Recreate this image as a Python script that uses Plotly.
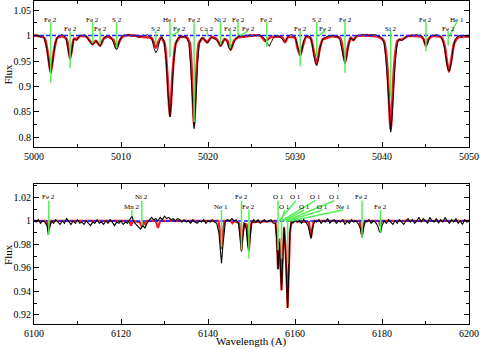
import plotly.graph_objects as go

# ---------------- DATA ----------------
# Top panel: observed spectrum (black), wavelength / flux pairs
top_observed = [
    (5000.0,1.000),(5000.25,1.001),(5000.5,0.999),(5000.75,0.997),(5001.0,0.999),(5001.2,0.994),
    (5001.45,0.975),(5001.7,0.945),(5001.92,0.925),(5002.15,0.950),(5002.4,0.982),(5002.65,0.996),
    (5002.9,1.000),(5003.15,1.002),(5003.4,1.001),(5003.65,0.996),(5003.85,0.978),(5004.0,0.962),
    (5004.15,0.954),(5004.35,0.970),(5004.55,0.992),(5004.75,0.992),(5004.9,0.990),(5005.1,0.996),
    (5005.35,1.001),(5005.6,1.000),(5005.85,1.002),(5006.1,0.997),(5006.4,0.988),(5006.7,0.982),
    (5006.95,0.987),(5007.15,0.990),(5007.4,0.984),(5007.6,0.979),(5007.85,0.989),(5008.1,0.996),
    (5008.35,0.999),(5008.6,1.001),(5008.85,0.996),(5009.15,0.986),(5009.35,0.975),(5009.55,0.973),
    (5009.8,0.988),(5010.05,0.998),(5010.3,1.001),(5010.55,1.000),(5010.8,1.002),(5011.05,1.000),
    (5011.3,0.999),(5011.55,1.001),(5011.8,0.998),(5012.05,0.996),(5012.3,0.999),(5012.55,1.001),
    (5012.8,1.000),(5013.05,1.002),(5013.3,0.999),(5013.55,0.993),(5013.8,0.975),(5014.0,0.966),
    (5014.2,0.972),(5014.45,0.990),(5014.7,0.998),(5014.95,0.990),(5015.2,0.950),(5015.4,0.885),
    (5015.63,0.840),(5015.85,0.885),(5016.05,0.950),(5016.3,0.985),(5016.55,0.996),(5016.8,0.998),
    (5017.05,0.997),(5017.3,0.999),(5017.55,0.996),(5017.8,0.985),(5018.0,0.940),(5018.2,0.870),
    (5018.4,0.817),(5018.6,0.870),(5018.8,0.945),(5019.0,0.985),(5019.25,0.996),(5019.5,0.994),
    (5019.75,0.988),(5019.95,0.985),(5020.2,0.993),(5020.45,0.997),(5020.7,0.994),(5020.95,0.992),
    (5021.2,0.987),(5021.45,0.979),(5021.7,0.988),(5021.95,0.994),(5022.2,0.988),(5022.4,0.976),
    (5022.6,0.972),(5022.85,0.982),(5023.1,0.991),(5023.35,0.997),(5023.6,0.998),(5023.85,1.000),
    (5024.1,0.998),(5024.35,1.001),(5024.6,1.000),(5024.85,1.002),(5025.1,0.999),(5025.35,1.001),
    (5025.6,1.000),(5025.85,1.002),(5026.1,0.999),(5026.35,0.997),(5026.6,0.991),(5026.85,0.983),
    (5027.05,0.979),(5027.3,0.988),(5027.55,0.997),(5027.8,0.999),(5028.05,1.000),(5028.3,0.997),
    (5028.55,0.993),(5028.8,0.988),(5029.0,0.992),(5029.25,0.999),(5029.5,1.002),(5029.75,1.001),
    (5030.0,0.998),(5030.2,0.985),(5030.4,0.968),(5030.6,0.960),(5030.8,0.972),(5031.0,0.990),
    (5031.25,0.998),(5031.5,1.000),(5031.75,0.997),(5031.95,0.985),(5032.15,0.962),(5032.35,0.945),
    (5032.5,0.941),(5032.7,0.955),(5032.9,0.978),(5033.15,0.992),(5033.4,0.995),(5033.65,0.998),
    (5033.9,1.000),(5034.15,0.999),(5034.4,1.001),(5034.65,0.999),(5034.9,0.998),(5035.15,0.992),
    (5035.35,0.975),(5035.55,0.955),(5035.75,0.945),(5035.95,0.958),(5036.15,0.982),(5036.4,0.996),
    (5036.6,0.992),(5036.8,0.991),(5037.0,0.998),(5037.25,1.001),(5037.5,1.000),(5037.75,1.002),
    (5038.0,1.001),(5038.25,1.003),(5038.5,1.000),(5038.75,1.002),(5039.0,1.001),(5039.25,1.002),
    (5039.5,0.999),(5039.75,0.998),(5040.0,0.995),(5040.25,0.985),(5040.45,0.955),(5040.65,0.905),
    (5040.85,0.845),(5041.0,0.810),(5041.15,0.840),(5041.35,0.900),(5041.55,0.955),(5041.75,0.985),
    (5042.0,0.994),(5042.2,0.990),(5042.45,0.992),(5042.7,0.998),(5042.95,1.000),(5043.2,0.999),
    (5043.45,1.001),(5043.7,1.000),(5043.95,1.002),(5044.2,1.000),(5044.45,1.001),(5044.7,0.996),
    (5044.9,0.986),(5045.05,0.978),(5045.25,0.986),(5045.5,0.997),(5045.75,1.001),(5046.0,1.000),
    (5046.25,1.002),(5046.5,1.000),(5046.75,0.998),(5047.0,0.990),(5047.2,0.975),(5047.4,0.950),
    (5047.6,0.932),(5047.75,0.930),(5047.95,0.945),(5048.15,0.972),(5048.4,0.992),(5048.65,0.998),
    (5048.9,1.000),(5049.15,0.998),(5049.4,1.001),(5049.65,0.999),(5049.9,1.000),(5050.0,0.999),
]

# Top panel: synthetic model (red)
top_model = [
    (5000.0,1.000),(5000.6,0.999),(5001.2,0.995),(5001.55,0.970),(5001.92,0.926),(5002.3,0.970),
    (5002.65,0.995),(5003.2,0.999),(5003.75,0.993),(5004.0,0.968),(5004.15,0.955),(5004.35,0.972),
    (5004.6,0.994),(5004.9,0.993),(5005.3,0.999),(5006.0,0.998),(5006.4,0.990),(5006.75,0.983),
    (5007.1,0.990),(5007.6,0.980),(5008.0,0.994),(5008.5,0.998),(5009.1,0.992),(5009.5,0.975),
    (5009.9,0.992),(5010.4,1.000),(5011.5,1.000),(5012.3,0.998),(5013.5,0.995),(5013.8,0.985),
    (5014.0,0.976),(5014.3,0.988),(5014.6,0.996),(5015.0,0.985),(5015.3,0.930),(5015.63,0.842),
    (5015.95,0.930),(5016.3,0.985),(5016.8,0.997),(5017.5,0.997),(5017.9,0.985),(5018.15,0.920),
    (5018.4,0.823),(5018.65,0.920),(5018.95,0.985),(5019.4,0.995),(5019.9,0.987),(5020.4,0.997),
    (5021.0,0.993),(5021.45,0.980),(5021.9,0.993),(5022.2,0.990),(5022.6,0.972),(5023.0,0.990),
    (5023.4,0.996),(5024.5,0.999),(5026.0,1.000),(5026.6,0.989),(5027.2,0.997),(5028.5,0.997),
    (5028.85,0.987),(5029.2,0.997),(5030.0,0.996),(5030.3,0.975),(5030.6,0.961),(5030.9,0.980),
    (5031.3,0.998),(5031.8,0.995),(5032.2,0.965),(5032.5,0.944),(5032.85,0.975),(5033.2,0.993),
    (5033.6,0.995),(5034.2,0.999),(5035.2,0.995),(5035.5,0.970),(5035.75,0.947),(5036.05,0.975),
    (5036.4,0.996),(5036.7,0.991),(5037.1,0.999),(5038.5,1.000),(5039.5,0.998),(5040.2,0.990),
    (5040.6,0.940),(5041.0,0.814),(5041.4,0.940),(5041.8,0.990),(5042.4,0.993),(5043.0,0.999),
    (5044.5,0.998),(5044.8,0.992),(5045.05,0.980),(5045.35,0.993),(5045.8,0.999),(5046.8,0.997),
    (5047.2,0.980),(5047.45,0.950),(5047.7,0.929),(5048.0,0.955),(5048.3,0.985),(5048.8,0.997),
    (5050.0,0.998),
]

# Top panel line identifications
top_ids        = ["Fe 2","Fe 2","Fe 2","Fe 2","S 2","S 2","He 1","Fe 2","Fe 2","Ca 2","Ni 2","Fe 2",
                  "Fe 2","Fe 2","Fe 2","Fe 2","S 2","Fe 2","Fe 2","Si 2","Fe 2","Fe 2","He 1"]
top_id_wave    = [5001.92,5004.15,5006.75,5007.6,5009.5,5014.0,5015.63,5015.85,5018.4,5019.92,5021.45,5022.55,
                  5023.45,5023.7,5026.75,5030.6,5032.5,5032.75,5035.75,5041.0,5045.05,5047.6,5047.8]
top_label_wave = [5001.92,5004.15,5006.75,5007.6,5009.5,5014.0,5015.63,5016.7,5018.4,5019.92,5021.45,5022.55,
                  5023.45,5024.6,5026.75,5030.6,5032.5,5033.45,5035.75,5041.0,5045.05,5047.6,5048.6]
top_label_row  = [1,0,1,0,1,0,1,0,1,0,1,0,1,0,1,0,1,0,1,0,1,0,1]
top_id_tip     = [0.907,0.936,0.985,0.983,0.975,0.982,0.958,1.0,0.830,0.998,0.982,0.975,
                  1.0,1.0,0.978,0.939,0.960,1.0,0.927,0.879,0.969,0.980,1.0]

# Bottom panel: observed spectrum (black)
bottom_observed = [
    (6100.0,1.000),(6100.5,0.999),(6101.0,1.001),(6101.5,0.998),(6102.0,1.000),(6102.5,0.999),
    (6103.0,0.996),(6103.3,0.988),(6103.6,0.995),(6104.0,1.000),(6104.5,0.998),(6105.0,1.001),
    (6105.5,0.999),(6106.0,0.997),(6106.5,1.000),(6107.0,0.998),(6107.5,1.002),(6108.0,0.999),
    (6108.5,0.997),(6109.0,1.000),(6109.5,0.998),(6110.0,1.001),(6110.5,0.998),(6111.0,0.999),
    (6111.5,0.997),(6112.0,1.000),(6112.5,0.998),(6113.0,0.996),(6113.5,0.999),(6114.0,0.998),
    (6114.5,1.001),(6115.0,0.998),(6115.5,0.999),(6116.0,0.997),(6116.5,1.000),(6117.0,0.998),
    (6117.5,1.001),(6118.0,0.999),(6118.5,0.996),(6119.0,0.999),(6119.5,0.998),(6120.0,1.000),
    (6120.5,0.997),(6121.0,0.999),(6121.5,0.998),(6122.0,1.001),(6122.5,1.004),(6123.0,0.999),
    (6123.5,0.997),(6124.0,0.995),(6124.5,0.993),(6125.0,0.996),(6125.5,0.994),(6126.0,0.998),
    (6126.5,1.001),(6127.0,1.003),(6127.5,1.001),(6128.0,1.002),(6128.5,1.000),(6129.0,1.003),
    (6129.5,1.001),(6130.0,1.004),(6130.5,1.002),(6131.0,1.003),(6131.5,1.001),(6132.0,1.002),
    (6132.5,1.000),(6133.0,1.002),(6133.5,1.001),(6134.0,0.999),(6134.5,1.001),(6135.0,0.999),
    (6135.5,1.000),(6136.0,0.998),(6136.5,1.001),(6137.0,0.999),(6137.5,0.998),(6138.0,1.000),
    (6138.5,0.999),(6139.0,1.001),(6139.5,0.998),(6140.0,1.000),(6140.5,0.999),(6141.0,1.001),
    (6141.5,0.999),(6142.0,0.998),(6142.5,0.990),(6142.8,0.975),(6143.1,0.964),(6143.4,0.978),
    (6143.7,0.993),(6144.0,1.000),(6144.5,1.001),(6145.0,1.000),(6145.5,1.002),(6146.0,1.000),
    (6146.5,1.001),(6147.0,0.998),(6147.4,0.985),(6147.7,0.974),(6148.0,0.986),(6148.4,0.998),
    (6148.8,0.993),(6149.1,0.980),(6149.4,0.975),(6149.7,0.987),(6150.0,0.998),(6150.5,1.001),
    (6151.0,0.999),(6151.5,1.001),(6152.0,0.998),(6152.5,1.000),(6153.0,1.001),(6153.5,0.999),
    (6154.0,1.000),(6154.5,1.001),(6155.0,0.998),(6155.5,0.998),(6155.8,0.985),(6156.1,0.959),
    (6156.4,0.982),(6156.6,0.965),(6156.9,0.941),(6157.2,0.970),(6157.5,0.994),(6157.8,0.975),
    (6158.05,0.945),(6158.3,0.926),(6158.55,0.955),(6158.8,0.990),(6159.2,1.000),(6159.5,0.998),
    (6160.0,1.001),(6160.5,0.999),(6161.0,1.000),(6161.5,0.998),(6162.0,1.001),(6162.5,0.999),
    (6163.0,0.996),(6163.4,0.988),(6163.7,0.985),(6164.0,0.993),(6164.5,1.000),(6165.0,0.999),
    (6165.5,1.001),(6166.0,0.998),(6166.5,1.000),(6167.0,0.999),(6167.5,1.002),(6168.0,0.998),
    (6168.5,1.000),(6169.0,1.001),(6169.5,0.998),(6170.0,1.000),(6170.5,0.999),(6171.0,1.001),
    (6171.5,0.997),(6172.0,1.000),(6172.5,0.998),(6173.0,1.001),(6173.5,0.999),(6174.0,1.000),
    (6174.5,0.998),(6175.0,0.994),(6175.4,0.986),(6175.8,0.995),(6176.2,1.000),(6176.5,0.999),
    (6177.0,1.001),(6177.5,0.998),(6178.0,1.000),(6178.5,0.999),(6179.0,0.996),(6179.4,0.991),
    (6179.7,0.990),(6180.0,0.996),(6180.5,1.000),(6181.0,0.998),(6181.5,1.001),(6182.0,0.999),
    (6182.5,0.997),(6183.0,1.000),(6183.5,0.998),(6184.0,1.001),(6184.5,0.999),(6185.0,0.997),
    (6185.5,1.000),(6186.0,1.002),(6186.5,0.999),(6187.0,1.001),(6187.5,0.998),(6188.0,1.000),
    (6188.5,1.003),(6189.0,0.999),(6189.5,1.002),(6190.0,1.000),(6190.5,0.998),(6191.0,1.003),
    (6191.5,1.000),(6192.0,0.999),(6192.5,1.002),(6193.0,0.998),(6193.5,1.001),(6194.0,0.999),
    (6194.5,1.003),(6195.0,1.000),(6195.5,0.998),(6196.0,1.001),(6196.5,0.999),(6197.0,1.002),
    (6197.5,0.998),(6198.0,1.000),(6198.5,0.997),(6199.0,1.001),(6199.5,0.999),(6200.0,1.000),
]

# Bottom panel: synthetic model (red)
bottom_model = [
    (6100.0,1.000),(6102.8,1.000),(6103.1,0.997),(6103.4,0.993),(6103.7,0.997),(6104.0,1.000),
    (6121.9,1.000),(6122.3,0.996),(6122.7,1.000),(6124.3,0.999),(6124.8,0.995),(6125.2,0.999),
    (6125.6,0.997),(6126.0,1.000),(6128.0,1.000),(6128.5,0.994),(6129.0,1.000),(6142.4,1.000),
    (6142.8,0.990),(6143.1,0.976),(6143.4,0.990),(6143.8,1.000),(6145.2,1.000),(6145.6,0.998),
    (6146.0,1.000),(6147.2,0.998),(6147.45,0.988),(6147.7,0.975),(6147.95,0.988),(6148.3,0.998),
    (6148.9,0.997),(6149.15,0.986),(6149.4,0.975),(6149.65,0.988),(6150.0,0.999),(6155.5,1.000),
    (6155.8,0.985),(6156.1,0.959),(6156.4,0.985),(6156.65,0.965),(6156.9,0.941),(6157.2,0.972),
    (6157.5,0.995),(6157.85,0.975),(6158.05,0.948),(6158.3,0.926),(6158.55,0.955),(6158.85,0.990),
    (6159.2,1.000),(6163.2,0.999),(6163.45,0.992),(6163.7,0.986),(6163.95,0.993),(6164.3,1.000),
    (6174.9,1.000),(6175.15,0.994),(6175.4,0.988),(6175.65,0.994),(6176.0,1.000),(6179.3,1.000),
    (6179.6,0.996),(6179.9,1.000),(6200.0,1.000),
]

# Bottom panel line identifications
bottom_ids        = ["Fe 2","Mn 2","Ni 2","Ne 1","Fe 2","Fe 2",
                     "O 1","O 1","O 1","O 1","O 1","O 1","O 1","Ne 1","Fe 2","Fe 2"]
bottom_id_wave    = [6103.4,6122.5,6124.8,6143.1,6147.7,6149.4,
                     6156.1,6156.3,6156.9,6157.9,6156.8,6157.4,6158.3,6159.0,6175.4,6179.65]
bottom_label_wave = [6103.4,6122.5,6124.8,6143.1,6147.7,6149.4,
                     6156.1,6160.2,6164.6,6169.0,6157.7,6162.1,6166.3,6171.0,6175.4,6179.65]
bottom_label_row  = [1,0,1,0,1,0, 1,1,1,1,0,0,0,0, 1,0]
bottom_id_tip     = [0.988,1.004,0.996,0.978,0.975,0.968,
                     0.975,1.0,0.968,1.0,1.0,1.0,0.964,1.0,0.986,0.990]

continuum_level = [1.0, 1.0]
top_range_wave = [5000, 5050]
bottom_range_wave = [6100, 6200]

# ---------------- STYLE ----------------
SERIF = "Liberation Serif, Times New Roman, serif"
RED = "#ee1c24"
GREEN = "#55f055"
BLUE = "#2222ff"

# label rows: (text centre, top of marker line)
top_rows = {1: (1.0316, 1.0267), 0: (1.0138, 1.0092)}
bottom_rows = {1: (1.0200, 1.0172), 0: (1.0118, 1.0093)}


def marker_segments(waves, label_waves, rows, tips, row_pos):
    xs, ys = [], []
    for w, lw, r, tip in zip(waves, label_waves, rows, tips):
        top = row_pos[r][1]
        if abs(lw - w) < 1e-9:
            xs += [w, w, None]
            ys += [top, tip, None]
        else:
            xs += [lw, w]
            ys += [top, 1.0]
            if tip < 1.0:
                xs += [w]
                ys += [tip]
            xs += [None]
            ys += [None]
    return xs, ys


fig = go.Figure()

# ---- top panel ----
tw, tf = zip(*top_observed)
mw, mf = zip(*top_model)
fig.add_trace(go.Scatter(x=mw, y=mf, mode="lines", line=dict(color=RED, width=2.6, shape="spline", smoothing=0.6),
                         xaxis="x", yaxis="y", hoverinfo="skip"))
fig.add_trace(go.Scatter(x=tw, y=tf, mode="lines", line=dict(color="black", width=0.9),
                         xaxis="x", yaxis="y", hoverinfo="skip"))
fig.add_trace(go.Scatter(x=top_range_wave, y=continuum_level, mode="lines",
                         line=dict(color=BLUE, width=1.5, dash="4px,2px"), xaxis="x", yaxis="y"))
gx, gy = marker_segments(top_id_wave, top_label_wave, top_label_row, top_id_tip, top_rows)
fig.add_trace(go.Scatter(x=gx, y=gy, mode="lines", line=dict(color=GREEN, width=1.5),
                         xaxis="x", yaxis="y", hoverinfo="skip"))

# ---- bottom panel ----
bmw, bmf = zip(*bottom_model)
bw, bf = zip(*bottom_observed)
fig.add_trace(go.Scatter(x=bmw, y=bmf, mode="lines", line=dict(color=RED, width=2.2),
                         xaxis="x2", yaxis="y2", hoverinfo="skip"))
fig.add_trace(go.Scatter(x=bottom_range_wave, y=continuum_level, mode="lines",
                         line=dict(color=BLUE, width=1.5, dash="4px,2px"), xaxis="x2", yaxis="y2"))
fig.add_trace(go.Scatter(x=bw, y=bf, mode="lines", line=dict(color="black", width=1.1),
                         xaxis="x2", yaxis="y2", hoverinfo="skip"))
gx2, gy2 = marker_segments(bottom_id_wave, bottom_label_wave, bottom_label_row, bottom_id_tip, bottom_rows)
fig.add_trace(go.Scatter(x=gx2, y=gy2, mode="lines", line=dict(color=GREEN, width=1.5),
                         xaxis="x2", yaxis="y2", hoverinfo="skip"))

annotations = []
for txt, lw, r in zip(top_ids, top_label_wave, top_label_row):
    annotations.append(dict(x=lw, y=top_rows[r][0], xref="x", yref="y", text=txt, showarrow=False,
                            font=dict(family=SERIF, size=7, color="black"), xanchor="center", yanchor="middle"))
for txt, lw, r in zip(bottom_ids, bottom_label_wave, bottom_label_row):
    annotations.append(dict(x=lw, y=bottom_rows[r][0], xref="x2", yref="y2", text=txt, showarrow=False,
                            font=dict(family=SERIF, size=7, color="black"), xanchor="center", yanchor="middle"))

# axis titles
annotations.append(dict(x=-0.06, y=0.775, xref="paper", yref="paper", text="Flux", textangle=-90, showarrow=False,
                        font=dict(family=SERIF, size=11, color="black"), xanchor="center", yanchor="middle"))
annotations.append(dict(x=-0.06, y=0.2167, xref="paper", yref="paper", text="Flux", textangle=-90, showarrow=False,
                        font=dict(family=SERIF, size=11, color="black"), xanchor="center", yanchor="middle"))
annotations.append(dict(x=0.5, y=-0.0557, xref="paper", yref="paper", text="Wavelength (A)", showarrow=False,
                        font=dict(family=SERIF, size=11, color="black"), xanchor="center", yanchor="middle"))

axis_common = dict(showline=True, linecolor="black", linewidth=1, mirror="allticks", ticks="inside",
                   ticklen=5, tickwidth=1, tickcolor="black", showgrid=False, zeroline=False,
                   tickfont=dict(family=SERIF, size=10, color="black"))

fig.update_layout(
    width=480, height=349,
    margin=dict(l=34, r=11, t=1, b=25),
    paper_bgcolor="white", plot_bgcolor="white",
    showlegend=False,
    annotations=annotations,
    xaxis=dict(domain=[0, 1], range=top_range_wave, anchor="y", tick0=5000, dtick=10,
               minor=dict(dtick=5, ticklen=3, ticks="inside", tickcolor="black"), **axis_common),
    yaxis=dict(domain=[0.548, 1], range=[0.781, 1.068], anchor="x", tick0=0.8, dtick=0.05,
               minor=dict(dtick=0.025, ticklen=3, ticks="inside", tickcolor="black"), **axis_common),
    xaxis2=dict(domain=[0, 1], range=bottom_range_wave, anchor="y2", tick0=6100, dtick=20,
                minor=dict(dtick=10, ticklen=3, ticks="inside", tickcolor="black"), **axis_common),
    yaxis2=dict(domain=[0, 0.4334], range=[0.9123, 1.0314], anchor="x2", tick0=0.92, dtick=0.02,
                minor=dict(dtick=0.01, ticklen=3, ticks="inside", tickcolor="black"), **axis_common),
)

fig.write_html("out.html", config={"displayModeBar": False, "staticPlot": True})

# remove the browser's default page margin so the 480x349 figure fills the window exactly
with open("out.html", "r", encoding="utf-8") as fh:
    html = fh.read()
html = html.replace("<head>", "<head><style>html,body{margin:0;padding:0;overflow:hidden;}</style>", 1)
with open("out.html", "w", encoding="utf-8") as fh:
    fh.write(html)
